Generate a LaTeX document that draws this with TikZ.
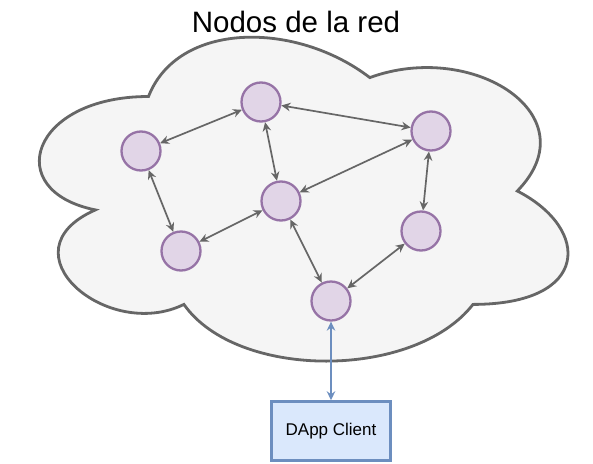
\documentclass[tikz,border=0pt]{standalone}
\usepackage{fontspec}
\setmainfont{Liberation Sans}
\usetikzlibrary{arrows.meta}

\definecolor{nubefondo}{HTML}{F5F5F5}
\definecolor{nubeborde}{HTML}{666666}
\definecolor{nodofondo}{HTML}{E1D5E7}
\definecolor{nodoborde}{HTML}{9673A6}
\definecolor{cajafondo}{HTML}{DAE8FC}
\definecolor{cajaborde}{HTML}{6C8EBF}

\tikzset{
  nodo/.style={circle, draw=nodoborde, fill=nodofondo, line width=2.3pt,
    minimum size=39pt, inner sep=0pt},
  enlace/.style={draw=nubeborde, line width=1.7pt, {Stealth[length=9pt, width=8.5pt, inset=3pt]}-{Stealth[length=9pt, width=8.5pt, inset=3pt]}},
  cliente/.style={draw=cajaborde, fill=cajafondo, line width=2.5pt,
    minimum width=119pt, minimum height=59pt, font=\fontsize{17}{19}\selectfont}
}

\begin{document}
\begin{tikzpicture}[x=1pt, y=-1pt]
\useasboundingbox (0,0) rectangle (593,463);

% Nube
\draw[line width=2.8pt, draw=nubeborde, fill=nubefondo]
  (148.5,96.5) .. controls (30.5,96.5) and (1,191) .. (95.4,209.9)
  .. controls (1,251.5) and (107.2,342.2) .. (183.9,304.4)
  .. controls (237,380) and (414,380) .. (473,304.4)
  .. controls (591,304.4) and (591,228.8) .. (517.3,191)
  .. controls (591,115.4) and (473,39.8) .. (369.8,77.6)
  .. controls (296,20.9) and (178,20.9) .. (148.5,96.5) -- cycle;

% Titulo
\node (titulo) at (296,22) {\fontsize{29.5}{32}\selectfont Nodos de la red};

% Nodos de la red
\node[nodo] (a) at (261,102) {};
\node[nodo] (b) at (141,151) {};
\node[nodo] (c) at (431,131) {};
\node[nodo] (d) at (281,201) {};
\node[nodo] (e) at (181,251) {};
\node[nodo] (f) at (421,231) {};
\node[nodo] (g) at (331,301) {};

% Cliente
\node[cliente] (dapp) at (331,431) {DApp Client};

% Enlaces
\draw[enlace] (a) -- (b);
\draw[enlace] (a) -- (c);
\draw[enlace] (a) -- (d);
\draw[enlace] (b) -- (e);
\draw[enlace] (e) -- (d);
\draw[enlace] (d) -- (c);
\draw[enlace] (c) -- (f);
\draw[enlace] (d) -- (g);
\draw[enlace] (g) -- (f);
\draw[enlace, draw=cajaborde] (g) -- (dapp);

\end{tikzpicture}
\end{document}
